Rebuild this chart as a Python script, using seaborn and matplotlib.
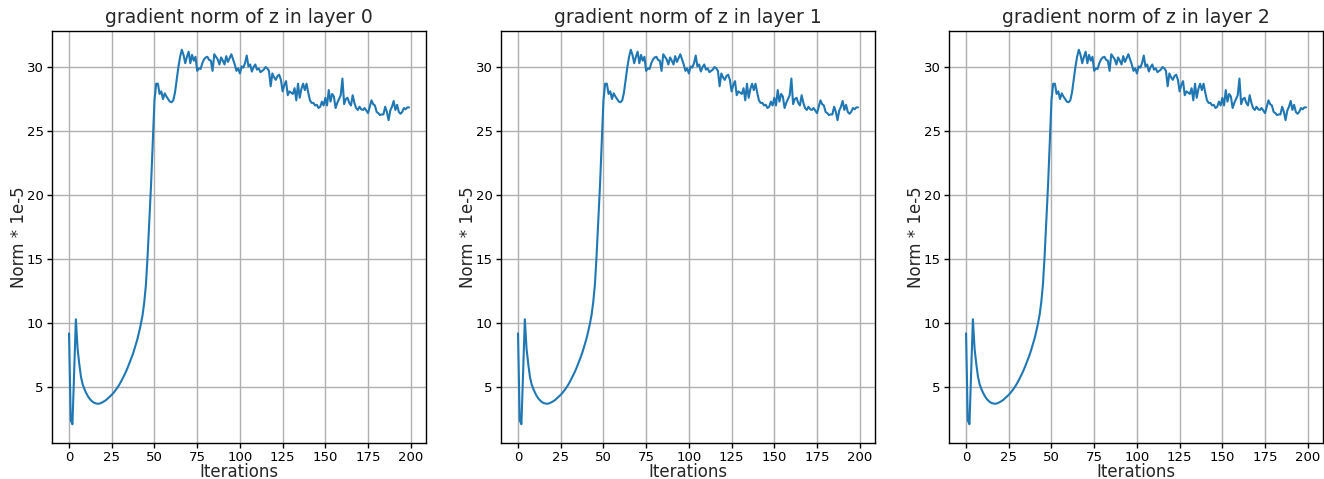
import matplotlib
matplotlib.use("Agg")
import matplotlib.pyplot as plt
import seaborn as sns
import pandas as pd

iterations = list(range(200))

norm_values = [
    9.2, 2.4, 2.1, 6.2, 10.3, 8.0, 6.8, 5.8, 5.2, 4.85,
    4.55, 4.3, 4.1, 3.95, 3.83, 3.76, 3.72, 3.7, 3.72, 3.78,
    3.85, 3.93, 4.03, 4.15, 4.27, 4.4, 4.55, 4.72, 4.9, 5.1,
    5.33, 5.58, 5.85, 6.12, 6.42, 6.75, 7.1, 7.45, 7.85, 8.3,
    8.75, 9.3, 9.9, 10.6, 11.6, 13.0, 15.3, 18.0, 20.8, 24.2,
    27.4, 28.7, 28.7, 27.9, 28.1, 27.5, 27.95, 27.7, 27.5, 27.3,
    27.25, 27.4, 28.0, 29.0, 30.0, 30.8, 31.35, 30.95, 30.3, 30.8,
    31.2, 30.3, 30.95, 30.5, 30.8, 29.7, 29.9, 29.85, 30.3, 30.6,
    30.75, 30.8, 30.55, 30.5, 29.7, 31.0, 30.8, 30.6, 30.2, 30.75,
    30.5, 30.2, 30.85, 30.4, 30.7, 31.0, 30.6, 30.2, 29.7, 29.9,
    29.5, 30.05, 29.95, 30.3, 30.9, 30.05, 30.2, 29.65, 30.0, 30.2,
    29.8, 29.9, 29.6, 29.7, 29.8, 30.0, 29.9, 29.7, 28.5, 29.5,
    29.2, 29.0, 29.3, 29.4, 29.0, 28.1, 28.6, 28.9, 27.8, 28.1,
    28.0, 27.9, 28.35, 27.4, 28.7, 27.6, 28.3, 28.7, 28.2, 28.7,
    28.0, 27.4, 27.2, 27.2, 27.0, 27.05, 26.8, 26.9, 27.3, 27.0,
    27.6, 27.0, 28.2, 27.3, 27.9, 27.7, 26.8, 27.2, 27.5, 27.8,
    29.1, 27.1, 27.5, 27.6, 27.2, 27.0, 27.8, 27.2, 26.8, 26.65,
    26.9, 26.7, 26.65, 26.8, 26.6, 26.4, 26.9, 27.4, 27.1, 27.0,
    26.5, 26.4, 26.25, 26.3, 26.3, 26.9, 26.5, 25.85, 26.6, 26.9,
    27.35, 26.65, 27.05, 26.5, 26.35, 26.5, 26.8, 26.7, 26.85, 26.85,
]

layers = [0, 1, 2]
titles = [f"gradient norm of z in layer {l}" for l in layers]

sns.set_style("ticks", {
    "axes.grid": True,
    "grid.color": "#b0b0b0",
    "axes.edgecolor": "black",
    "xtick.color": "black",
    "ytick.color": "black",
})
plt.rcParams["font.family"] = ["DejaVu Sans"]
plt.rcParams["grid.linewidth"] = 1.0
plt.rcParams["axes.linewidth"] = 1.0

fig = plt.figure(figsize=(13.24, 4.79), dpi=100)
lefts = [0.0393, 0.3784, 0.7168]
df = pd.DataFrame({"Iterations": iterations, "norm": norm_values})

for left, title in zip(lefts, titles):
    ax = fig.add_axes([left, 0.0752, 0.2825, 0.860])
    sns.lineplot(data=df, x="Iterations", y="norm", ax=ax, color="#1f77b4", linewidth=1.5)
    ax.set_title(title, fontsize=13.5)
    ax.set_xlabel("Iterations", fontsize=12, labelpad=-1)
    ax.set_ylabel("Norm * 1e-5", fontsize=12, labelpad=-1)
    ax.set_xticks([0, 25, 50, 75, 100, 125, 150, 175, 200])
    ax.set_yticks([5, 10, 15, 20, 25, 30])
    ax.tick_params(labelsize=9.5, length=3.5, width=1, pad=2.5)
    for s in ax.spines.values():
        s.set_visible(True)
        s.set_color("black")

fig.savefig("out.png", dpi=100)
